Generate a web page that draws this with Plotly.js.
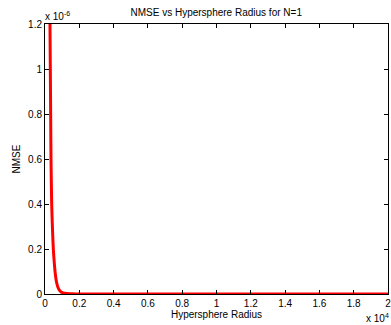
<!DOCTYPE html>
<html>
<head>
<meta charset="utf-8">
<script src="https://cdn.plot.ly/plotly-3.0.1.min.js"></script>
<style>html,body{margin:0;padding:0;background:#fff;}#chart{width:391px;height:325px;}</style>
</head>
<body>
<div id="chart"></div>
<script>
// Hypersphere radius (units of 1e4)
const radius = [0.0280, 0.0290, 0.0310, 0.0330, 0.0350, 0.0390, 0.0440, 0.0485, 0.0540, 0.0600, 0.0680, 0.0780, 0.0900, 0.1050, 0.1300, 0.1600, 0.2000, 0.3000, 0.5000, 0.8000, 1.2000, 1.6000, 2.0000];
// NMSE (units of 1e-6)
const nmse = [1.35, 1.2, 1.0, 0.8, 0.6, 0.4, 0.28, 0.2, 0.14, 0.09, 0.05, 0.025, 0.012, 0.005, 0.002, 0.0008, 0.0003, 0.0001, 0.00002, 0.000005, 0.000002, 0.000001, 0.0000005];
const xTicks = [0, 0.2, 0.4, 0.6, 0.8, 1, 1.2, 1.4, 1.6, 1.8, 2];
const yTicks = [0, 0.2, 0.4, 0.6, 0.8, 1, 1.2];

const font = {family: 'Liberation Sans, Arial, sans-serif', size: 10, color: '#000'};

const trace = {
  x: radius, y: nmse, type: 'scatter', mode: 'lines',
  line: {color: '#ff0000', width: 3, shape: 'spline', smoothing: 0.6},
  hoverinfo: 'skip', showlegend: false
};

const axisCommon = {
  showgrid: false, zeroline: false, showline: true, linecolor: '#000', linewidth: 1,
  mirror: 'ticks', ticks: 'inside', ticklen: 4, tickcolor: '#000', tickwidth: 1,
  tickfont: font, tickmode: 'array', ticklabeloverflow: 'allow'
};

const layout = {
  width: 391, height: 325,
  margin: {l: 45, r: 3, t: 24, b: 31},
  paper_bgcolor: '#fff', plot_bgcolor: '#fff',
  font: font,
  title: {text: 'NMSE vs Hypersphere Radius for N=1', font: font, x: 0.553, xanchor: 'center', y: 0.962, yanchor: 'middle'},
  xaxis: Object.assign({}, axisCommon, {
    range: [0, 2], tickvals: xTicks, ticktext: xTicks.map(String),
    title: {text: 'Hypersphere Radius', font: font, standoff: 2}
  }),
  yaxis: Object.assign({}, axisCommon, {
    range: [0, 1.2], tickvals: yTicks, ticktext: yTicks.map(String),
    title: {text: 'NMSE', font: font, standoff: 5}
  }),
  annotations: [
    {text: 'x 10<sup>-6</sup>', xref: 'paper', yref: 'paper', x: 0, y: 1, xanchor: 'left', yanchor: 'bottom', showarrow: false, font: font, xshift: -2, yshift: 0},
    {text: 'x 10<sup>4</sup>', xref: 'paper', yref: 'paper', x: 1, y: 0, xanchor: 'right', yanchor: 'top', showarrow: false, font: font, yshift: -16, xshift: 3}
  ]
};

Plotly.newPlot('chart', [trace], layout, {displayModeBar: false, staticPlot: true});
</script>
</body>
</html>
